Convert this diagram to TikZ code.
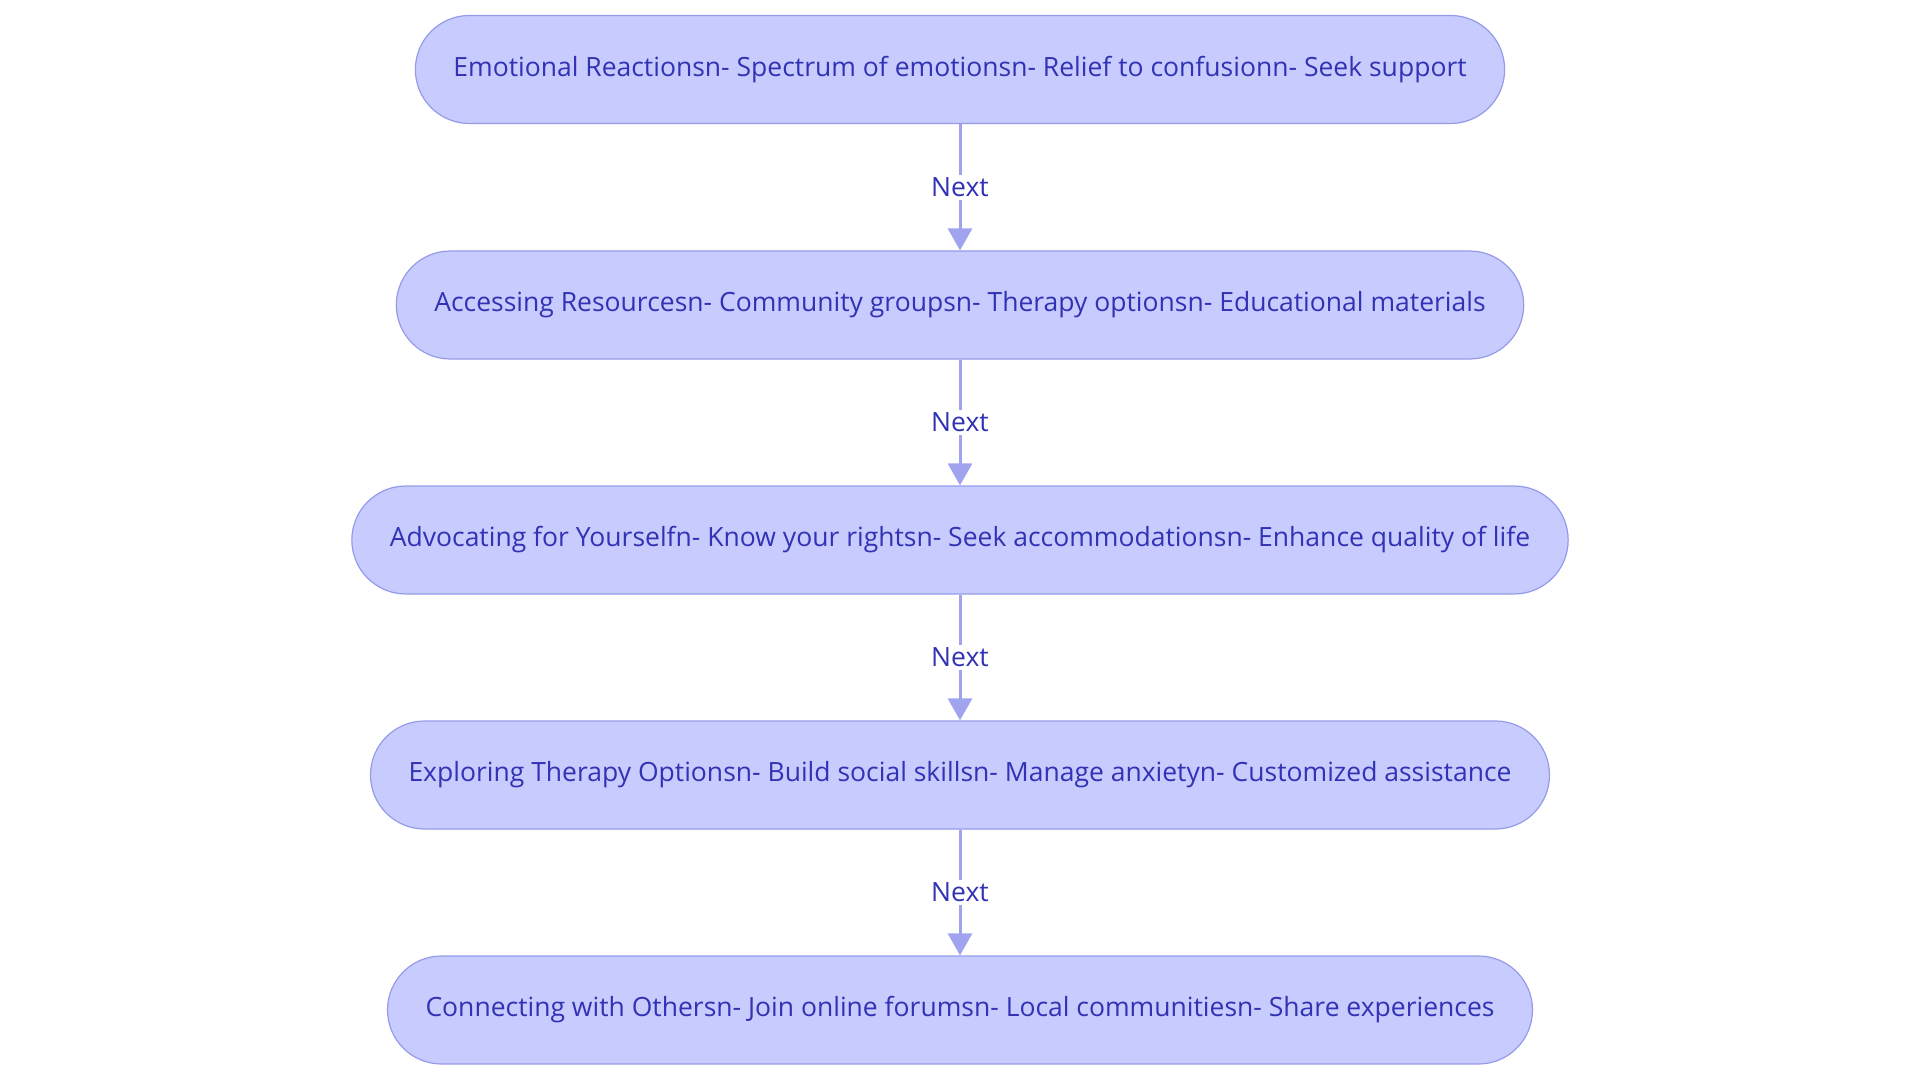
\documentclass[tikz,border=0pt]{standalone}
\usepackage{fontspec}
\setmainfont{Open Sans}
\usetikzlibrary{arrows.meta}

\definecolor{boxfill}{RGB}{200,203,254}
\definecolor{boxline}{RGB}{150,155,232}
\definecolor{boxtext}{RGB}{50,50,180}
\definecolor{arrowline}{RGB}{160,164,238}

\tikzset{
  stage/.style={draw=boxline, line width=1.2pt, fill=boxfill, text=boxtext,
    rounded corners=54pt, minimum height=108pt, inner xsep=38pt,
    font=\fontsize{26.5}{30}\selectfont},
  link/.style={draw=arrowline, line width=3pt, -{Triangle[length=22pt,width=24pt]}},
  linklabel/.style={fill=white, text=boxtext, inner sep=3pt, font=\fontsize{26.5}{30}\selectfont}
}

\begin{document}
\begin{tikzpicture}[x=1pt,y=-1pt]
\useasboundingbox (0,0) rectangle (1920,1083);

\node[stage] (emotional) at (960,69.5) {Emotional Reactionsn- Spectrum of emotionsn- Relief to confusionn- Seek support};
\node[stage] (resources) at (960,305) {Accessing Resourcesn- Community groupsn- Therapy optionsn- Educational materials};
\node[stage] (advocating) at (960,540) {Advocating for Yourselfn- Know your rightsn- Seek accommodationsn- Enhance quality of life};
\node[stage] (therapy) at (960,775) {Exploring Therapy Optionsn- Build social skillsn- Manage anxietyn- Customized assistance};
\node[stage] (connecting) at (960,1010) {Connecting with Othersn- Join online forumsn- Local communitiesn- Share experiences};

\draw[link] (emotional) -- node[linklabel] {Next} (resources);
\draw[link] (resources) -- node[linklabel] {Next} (advocating);
\draw[link] (advocating) -- node[linklabel] {Next} (therapy);
\draw[link] (therapy) -- node[linklabel] {Next} (connecting);

\end{tikzpicture}
\end{document}
